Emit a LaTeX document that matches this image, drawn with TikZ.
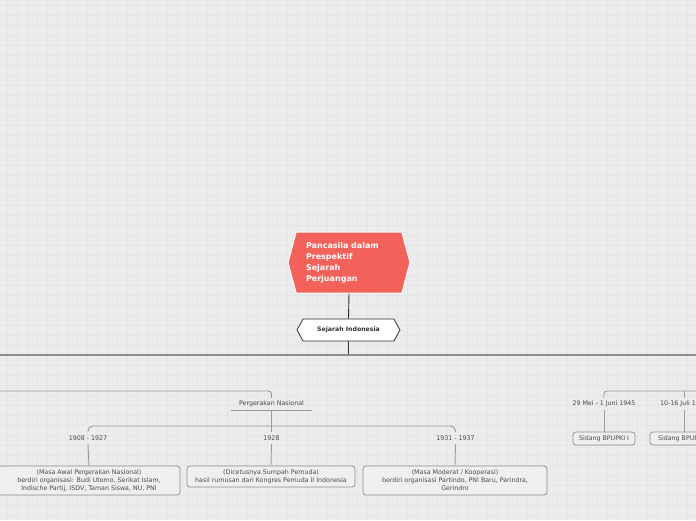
\documentclass[tikz,border=0pt]{standalone}
\usepackage{fontspec}
\setmainfont{DejaVu Sans}
\usetikzlibrary{shapes.symbols}
\definecolor{bg}{HTML}{ECECEC}
\definecolor{gridc}{HTML}{E5E5E5}
\definecolor{redc}{HTML}{F2625A}
\definecolor{darkc}{HTML}{333333}
\definecolor{linec}{HTML}{9A9A9A}
\definecolor{mainline}{HTML}{8E8E8E}
\definecolor{txtc}{HTML}{4A4A4A}
\definecolor{boxfill}{HTML}{EFEFEF}
\definecolor{boxline}{HTML}{8C8C8C}
\tikzset{
  lbl/.style={font=\fontsize{6.3}{8}\selectfont, text=txtc, inner sep=0pt, minimum height=12},
  boxn/.style={draw=boxline, fill=boxfill, rounded corners=3pt, line width=0.7pt, align=center,
     font=\fontsize{6.3}{8}\selectfont, text=txtc, inner sep=0pt},
  conn/.style={draw=linec, line width=0.9pt},
  darkconn/.style={draw=darkc, line width=0.9pt}
}
\begin{document}
\begin{tikzpicture}[x=1pt,y=-1pt]
\useasboundingbox (0,0) rectangle (696,520);
\clip (0,0) rectangle (696,520);
\fill[bg] (0,0) rectangle (696,520);
\foreach \i in {0,...,70} \draw[gridc, line width=0.4pt] (\i*10+7,0) -- (\i*10+7,520);
\foreach \j in {0,...,52} \draw[gridc, line width=0.4pt] (0,\j*10+5) -- (696,\j*10+5);

% central node
\node[signal, signal to=west and east, signal pointer angle=150, fill=redc, draw=white,
  line width=1pt, minimum width=122, minimum height=61, inner sep=0pt,
  text width=86, align=left, text=white, font=\fontsize{8}{11}\selectfont\bfseries]
  (c) at (349,262.5) {Pancasila dalam\\Prespektif\\Sejarah\\Perjuangan};

\node[signal, signal to=west and east, signal pointer angle=122, fill=white, draw=darkc,
  line width=0.8pt, minimum width=103, minimum height=22, inner sep=0pt,
  font=\fontsize{6.2}{7}\selectfont\bfseries, text=darkc]
  (si) at (348.5,330) {Sejarah Indonesia};

\coordinate (hl) at (0,355);
\coordinate (hr) at (696,355);
\coordinate (hm) at (348.5,355);
\draw[darkconn] (c.south) -- (si.north);
\draw[darkconn] (si.south) -- (hm);
\draw[draw=mainline, line width=1.5pt] (hl) -- (hr);

% Pergerakan Nasional branch
\coordinate (lft) at (0,391);
\node[lbl, minimum width=81] (pn) at (271.5,404) {Pergerakan Nasional};
\draw[conn] (pn.south west) -- (pn.south east);
\draw[conn, rounded corners=3pt] (lft) -- (pn.north |- lft) -- (pn.north);

\coordinate (bus) at (271.5,426);
\node[lbl] (l1) at (88,438) {1908 - 1927};
\node[lbl] (l2) at (271.5,438) {1928};
\node[lbl] (l3) at (455.5,438) {1931 - 1937};
\draw[conn] (pn.south) -- (l2.north);
\draw[conn, rounded corners=5pt] (l1.north) -- (l1.north |- bus) -- (l3.north |- bus) -- (l3.north);

\node[boxn, minimum width=182, minimum height=29] (b1) at (89,480.5)
  {(Masa Awal Pergerakan Nasional)\\berdiri organisasi: Budi Utomo, Serikat Islam,\\Indische Partij, ISDV, Taman Siswa, NU, PNI};
\node[boxn, minimum width=168, minimum height=21] (b2) at (271,476.5)
  {(Dicetusnya Sumpah Pemuda)\\hasil rumusan dari Kongres Pemuda II Indonesia};
\node[boxn, minimum width=184, minimum height=29] (b3) at (455,480.5)
  {(Masa Moderat / Kooperasi)\\berdiri organisasi Partindo, PNI Baru, Parindra,\\Gerindro};
\draw[conn] (l1.south) -- (b1.north);
\draw[conn] (l2.south) -- (b2.north);
\draw[conn] (l3.south) -- (b3.north);

% right branch
\coordinate (rr) at (696,391);
\node[lbl] (d1) at (604,404) {29 Mei - 1 Juni 1945};
\node[lbl] (d2) at (684,404) {10-16 Juli 1945};
\draw[conn, rounded corners=3pt] (d1.north) -- (d1.north |- rr) -- (rr);
\draw[conn] (d2.north) -- (d2.north |- rr);
\node[boxn, minimum width=62, minimum height=13] (s1) at (604,438.5) {Sidang BPUPKI I};
\node[boxn, minimum width=68, minimum height=13] (s2) at (684,438.5) {Sidang BPUPKI II};
\draw[conn] (d1.south) -- (s1.north);
\draw[conn] (d2.south) -- (s2.north);
\end{tikzpicture}
\end{document}
